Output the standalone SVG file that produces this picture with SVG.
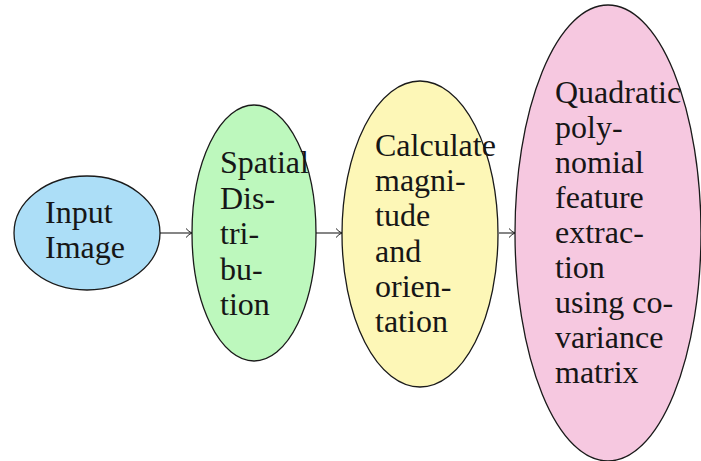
<svg xmlns="http://www.w3.org/2000/svg" width="701" height="461" viewBox="0 0 701 461">
<defs>
<marker id="arr" markerWidth="10" markerHeight="12" refX="8" refY="6" orient="auto" markerUnits="userSpaceOnUse">
<path d="M2,1.5 Q5,5 8,6 Q5,7 2,10.5" fill="none" stroke="#222" stroke-width="1"/>
</marker>
<style>
.n{stroke:#1a1a1a;stroke-width:1.3}
.t{font-family:"Liberation Serif","DejaVu Serif",serif;font-size:32px;fill:#161616}
.c{stroke:#222;stroke-width:1.1;fill:none}
</style>
</defs>
<rect width="701" height="461" fill="#fff"/>
<g id="connectors">
<line class="c" x1="160" y1="233" x2="192" y2="233" marker-end="url(#arr)"/>
<line class="c" x1="316" y1="233" x2="342" y2="233" marker-end="url(#arr)"/>
<line class="c" x1="499" y1="233" x2="515" y2="233" marker-end="url(#arr)"/>
</g>
<g id="input">
<ellipse class="n" cx="87" cy="233" rx="73" ry="57" fill="#acdef7"/>
<text class="t" x="45" y="223">Input</text>
<text class="t" x="45" y="258">Image</text>
</g>
<g id="spatial">
<ellipse class="n" cx="254" cy="233" rx="62" ry="128" fill="#bdf8bd"/>
<text class="t" x="220"><tspan x="220" y="173">Spatial</tspan><tspan x="220" y="208.5">Dis-</tspan><tspan x="220" y="244">tri-</tspan><tspan x="220" y="279.5">bu-</tspan><tspan x="220" y="315">tion</tspan></text>
</g>
<g id="calculate">
<ellipse class="n" cx="420" cy="234" rx="78" ry="153" fill="#fdf7b7"/>
<text class="t"><tspan x="375" y="156">Calculate</tspan><tspan x="375" y="191.2">magni-</tspan><tspan x="375" y="226.4">tude</tspan><tspan x="375" y="261.6">and</tspan><tspan x="375" y="296.8">orien-</tspan><tspan x="375" y="332">tation</tspan></text>
</g>
<g id="quadratic">
<ellipse class="n" cx="608" cy="233" rx="93" ry="228" fill="#f6c8e0"/>
<text class="t"><tspan x="555" y="103">Quadratic</tspan><tspan x="555" y="138">poly-</tspan><tspan x="555" y="173">nomial</tspan><tspan x="555" y="208">feature</tspan><tspan x="555" y="243">extrac-</tspan><tspan x="555" y="278">tion</tspan><tspan x="555" y="313">using co-</tspan><tspan x="555" y="348">variance</tspan><tspan x="555" y="383">matrix</tspan></text>
</g>
</svg>
